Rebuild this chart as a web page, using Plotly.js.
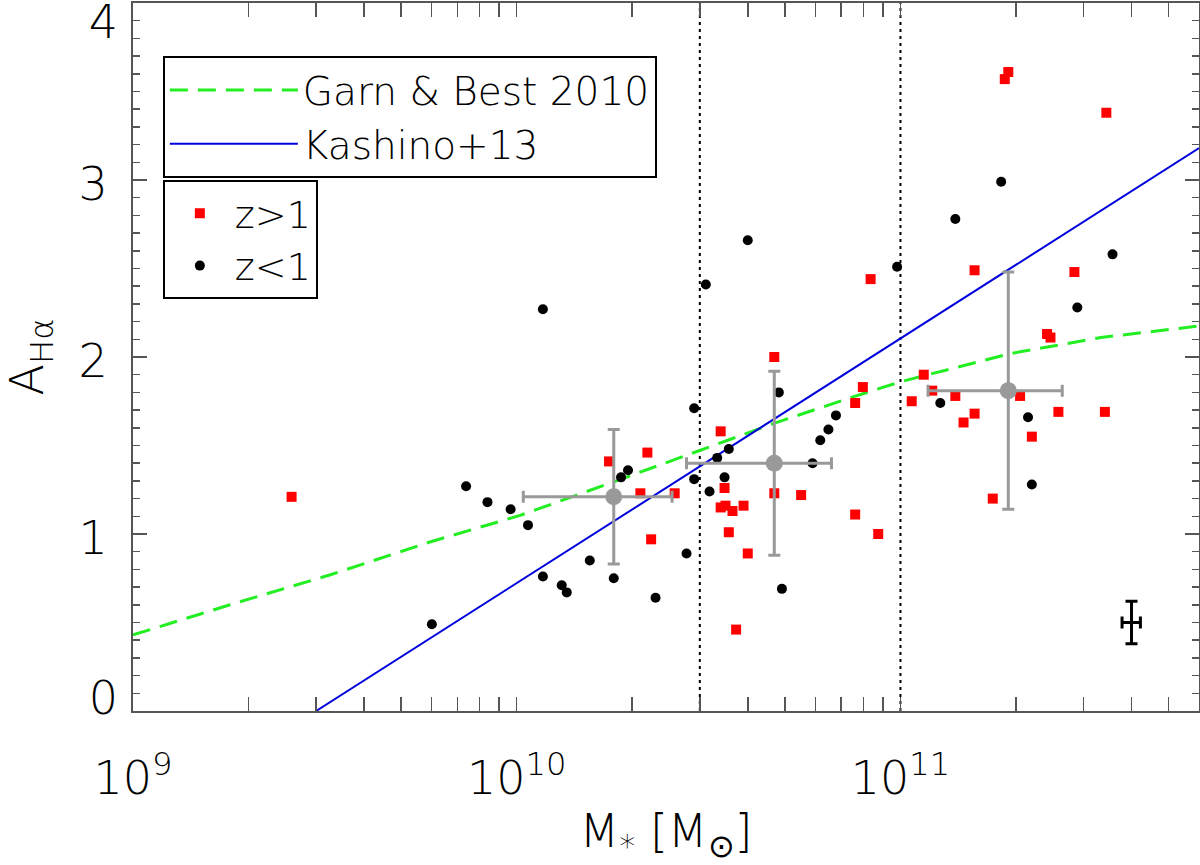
<!DOCTYPE html>
<html>
<head>
<meta charset="utf-8">
<script src="https://cdn.plot.ly/plotly-3.0.1.min.js"></script>
<style>
  html, body { margin: 0; padding: 0; background: #fff; }
  #plot { width: 1200px; height: 865px; }
</style>
</head>
<body>
<div id="plot"></div>
<script>
// z > 1 galaxies (red squares)
const highzMass = [2.59e9, 1.74e10, 2.19e10, 2.10e10, 2.58e10, 2.24e10, 3.40e10, 3.48e10, 3.40e10,
    3.50e10, 3.65e10, 3.90e10, 3.57e10, 4.00e10, 3.73e10, 4.69e10, 4.69e10, 5.51e10, 7.62e10,
    7.98e10, 7.62e10, 8.75e10, 1.07e11, 1.15e11, 1.39e11, 1.56e11, 1.46e11, 1.21e11, 1.74e11,
    2.05e11, 2.20e11, 2.58e11, 3.41e11, 2.41e11, 2.46e11, 8.36e10, 1.91e11, 1.87e11, 1.56e11,
    2.84e11, 3.44e11];
const highzA = [1.21, 1.41, 1.46, 1.23, 1.23, 0.97, 1.58, 1.26, 1.15,
    1.16, 1.13, 1.16, 1.01, 0.89, 0.46, 2.00, 1.23, 1.22, 1.74,
    1.83, 1.11, 1.00, 1.75, 1.90, 1.78, 1.68, 1.63, 1.81, 1.20,
    1.78, 1.55, 1.69, 1.69, 2.13, 2.11, 2.44, 3.61, 3.57, 2.49,
    2.48, 3.38];

// z < 1 galaxies (black circles)
const lowzMass = [7.38e9, 8.39e9, 9.64e9, 1.07e10, 6.01e9, 1.17e10, 1.31e10, 1.35e10, 1.55e10,
    1.79e10, 1.87e10, 1.95e10, 2.30e10, 2.77e10, 2.90e10, 2.90e10, 3.18e10, 3.33e10, 3.57e10,
    3.48e10, 4.82e10, 4.91e10, 5.90e10, 6.18e10, 6.49e10, 6.79e10, 1.27e11, 2.15e11, 2.20e11,
    3.11e10, 4.00e10, 9.80e10, 1.83e11, 1.39e11, 2.89e11, 3.57e11, 1.17e10];
const lowzA = [1.27, 1.18, 1.14, 1.05, 0.49, 0.76, 0.71, 0.67, 0.85,
    0.75, 1.32, 1.36, 0.64, 0.89, 1.71, 1.31, 1.24, 1.43, 1.48,
    1.32, 1.80, 0.69, 1.40, 1.53, 1.59, 1.67, 1.74, 1.66, 1.28,
    2.41, 2.66, 2.51, 2.99, 2.78, 2.28, 2.58, 2.27];

// binned means (grey)
const binMass = [1.79e10, 4.69e10, 1.91e11];
const binMassErr = [0.75e10, 1.92e10, 0.73e11];
const binA = [1.21, 1.40, 1.81];
const binAErr = [0.38, 0.52, 0.67];

// typical error bar
const typMass = [4.0e11];
const typMassErr = [0.22e11];
const typA = [0.50];
const typAErr = [0.12];

// Garn & Best 2010 relation
const garnMass = [1.0e9, 1.79e9, 3.27e9, 5.94e9, 1.02e10, 1.79e10, 4.68e10, 7.41e10,
    1.0e11, 1.79e11, 1.94e11, 3.33e11, 6.0e11];
const garnA = [0.43, 0.60, 0.77, 0.955, 1.105, 1.295, 1.625, 1.77,
    1.86, 2.00, 2.02, 2.11, 2.175];

// Kashino+13 relation
const kashMass = [3.0e9, 6.0e11];
const kashA = [0, 3.18];

// bin boundaries
const binEdges = [3.0e10, 1.0e11];

const FONT = '"DejaVu Sans", Lato, sans-serif';
const W = 200;

var traces = [];

binEdges.forEach(function (m) {
    traces.push({
        x: [m, m], y: [0, 4], mode: 'lines', showlegend: false, hoverinfo: 'skip',
        line: {color: 'black', width: 2, dash: '3px,4px'}
    });
});

traces.push({
    x: garnMass, y: garnA, mode: 'lines', name: 'Garn & Best 2010', legend: 'legend',
    line: {color: '#22ee22', width: 3, dash: '18px,10px'}
});
traces.push({
    x: kashMass, y: kashA, mode: 'lines', name: 'Kashino+13', legend: 'legend',
    line: {color: '#0000dd', width: 2}
});
traces.push({
    x: highzMass, y: highzA, mode: 'markers', name: 'z>1', legend: 'legend2',
    marker: {symbol: 'square', color: '#ff0000', size: 10}
});
traces.push({
    x: lowzMass, y: lowzA, mode: 'markers', name: 'z<1', legend: 'legend2',
    marker: {symbol: 'circle', color: 'black', size: 10}
});
traces.push({
    x: binMass, y: binA, mode: 'markers', showlegend: false,
    marker: {symbol: 'circle', color: '#999999', size: 17},
    error_x: {type: 'data', array: binMassErr, color: '#999999', thickness: 3, width: 6},
    error_y: {type: 'data', array: binAErr, color: '#999999', thickness: 3, width: 6}
});
// typical error bar, also hooks up the extra label axes (same range as y)
traces.push({
    x: typMass, y: typA, mode: 'markers', showlegend: false, yaxis: 'y2',
    marker: {color: 'black', size: 1},
    error_x: {type: 'data', array: typMassErr, color: 'black', thickness: 3, width: 6},
    error_y: {type: 'data', array: typAErr, color: 'black', thickness: 3, width: 6}
});
traces.push({
    x: typMass, y: typA, mode: 'markers', showlegend: false, yaxis: 'y3',
    marker: {color: 'rgba(0,0,0,0)', size: 1}, hoverinfo: 'skip'
});

// minor tick positions on the log axis
var minorX = [];
[1e9, 1e10, 1e11].forEach(function (d) {
    for (var k = 2; k <= 9; k++) minorX.push(k * d);
});

var tickFont = {size: 46, family: FONT, weight: W};

// extra y axes only carry the end labels, nudged inward like the original
function labelAxis(val, shift) {
    return {
        overlaying: 'y', side: 'left', range: [0, 4],
        tickmode: 'array', tickvals: [val], ticktext: [String(val)],
        ticks: '', showline: false, showgrid: false, zeroline: false, automargin: false,
        tickfont: tickFont, ticklabelstandoff: 14, ticklabelshift: shift,
        ticklabeloverflow: 'allow'
    };
}

var layout = {
    width: 1200, height: 865,
    margin: {l: 133, r: 1, t: 3, b: 154},
    paper_bgcolor: 'white', plot_bgcolor: 'white',
    font: {family: FONT, color: 'black', weight: W},
    xaxis: {
        type: 'log', range: [9, 11.778],
        tickmode: 'array', tickvals: [1e9, 1e10, 1e11],
        ticktext: ['10<sup>9</sup>', '10<sup>10</sup>', '10<sup>11</sup>'],
        ticks: 'inside', ticklen: 14, tickwidth: 1.5, tickcolor: '#555',
        minor: {tickmode: 'array', tickvals: minorX, ticks: 'inside', ticklen: 7, tickwidth: 1.5, tickcolor: '#555'},
        showline: true, linecolor: '#555', linewidth: 2, mirror: 'allticks',
        showgrid: false, zeroline: false, automargin: false,
        tickfont: tickFont,
        ticklabelstandoff: 26,
        title: {text: 'M<sub>*</sub> [M<sub>⊙</sub>]', font: {size: 46, family: FONT, weight: W}, standoff: 18}
    },
    yaxis: {
        range: [0, 4], tickmode: 'array', tickvals: [0, 1, 2, 3, 4], ticktext: ['', '1', '2', '3', ''],
        ticks: 'inside', ticklen: 14, tickwidth: 1.5, tickcolor: '#555',
        minor: {dtick: 0.1, ticks: 'inside', ticklen: 7, tickwidth: 1.5, tickcolor: '#555'},
        showline: true, linecolor: '#555', linewidth: 2, mirror: 'allticks',
        showgrid: false, zeroline: false, automargin: false,
        tickfont: tickFont, ticklabelshift: 4,
        ticklabelstandoff: 14,
        title: {text: 'A<sub>Hα</sub>', font: {size: 46, family: FONT, weight: W}, standoff: 28}
    },
    yaxis2: labelAxis(4, 19),
    yaxis3: labelAxis(0, -13),
    legend: {
        x: 0.028, y: 0.925, xanchor: 'left', yanchor: 'top',
        bgcolor: 'white', bordercolor: 'black', borderwidth: 2,
        font: {size: 39, family: FONT, weight: W}, itemwidth: 128
    },
    legend2: {
        x: 0.028, y: 0.75, xanchor: 'left', yanchor: 'top',
        bgcolor: 'white', bordercolor: 'black', borderwidth: 2,
        font: {size: 38, family: FONT, weight: W}, itemwidth: 60
    },
    showlegend: true
};

Plotly.newPlot('plot', traces, layout, {displayModeBar: false, staticPlot: true});
</script>
</body>
</html>
